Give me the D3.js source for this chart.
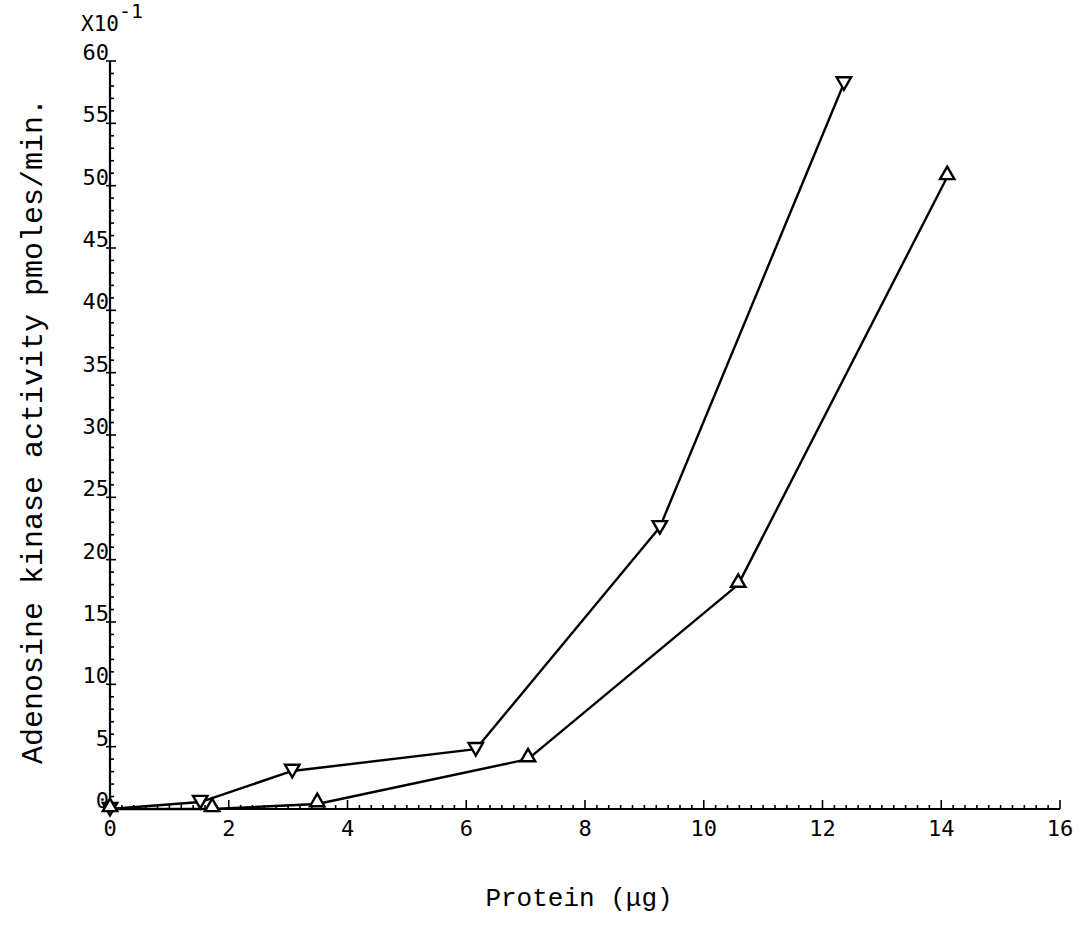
<!DOCTYPE html>
<html><head><meta charset="utf-8">
<script src="https://cdn.jsdelivr.net/npm/d3@7"></script>
<style>body{margin:0;background:#fff}svg{display:block}</style>
</head><body>
<svg id="c" width="1087" height="939"></svg>
<script>
// Data (protein in µg, activity in pmoles/min x10^-1)
const seriesDownX = [0, 1.52, 3.07, 6.16, 9.26, 12.36];
const seriesDownY = [0, 0.56, 3.05, 4.8, 22.6, 58.2];
const seriesUpX = [0, 1.72, 3.49, 7.04, 10.58, 14.1];
const seriesUpY = [0, 0.0, 0.4, 4.0, 18.0, 50.7];
const xTicks = [0, 2, 4, 6, 8, 10, 12, 14, 16];
const yTicks = [0, 5, 10, 15, 20, 25, 30, 35, 40, 45, 50, 55, 60];
const xLabel = "Protein (μg)";
const yLabel = "Adenosine kinase activity pmoles/min.";

const svg = d3.select("#c");
const x = d3.scaleLinear().domain([0, 16]).range([110, 1060]);
const y = d3.scaleLinear().domain([0, 60]).range([809, 61]);
const ink = "#000";
const tickFont = "'DejaVu Sans Mono', monospace";
const titleFont = "'Liberation Mono', 'Courier New', monospace";

// X axis line and ticks (pointing up/inside)
const gx = svg.append("g");
gx.append("line").attr("x1", x(0)).attr("x2", x(16)).attr("y1", y(0)).attr("y2", y(0))
  .attr("stroke", ink).attr("stroke-width", 2.2);
const xMinor = d3.range(0, 16.001, 0.2).map(v => +v.toFixed(2));
gx.selectAll("line.mn").data(xMinor).join("line").attr("class", "mn")
  .attr("x1", d => x(d)).attr("x2", d => x(d))
  .attr("y1", y(0)).attr("y2", d => y(0) - (Math.abs(d / 2 - Math.round(d / 2)) < 1e-6 ? 9 : 4))
  .attr("stroke", ink).attr("stroke-width", 1.6);
gx.selectAll("text").data(xTicks).join("text")
  .attr("x", d => x(d)).attr("y", y(0) + 27)
  .attr("text-anchor", "middle").attr("font-family", tickFont).attr("font-size", 22)
  .attr("fill", ink).text(d => d);

// Y axis line and ticks (pointing right/inside)
const gy = svg.append("g");
gy.append("line").attr("x1", x(0)).attr("x2", x(0)).attr("y1", y(0)).attr("y2", y(60))
  .attr("stroke", ink).attr("stroke-width", 2.2);
const yMinor = d3.range(0, 60.001, 1);
gy.selectAll("line.mn").data(yMinor).join("line").attr("class", "mn")
  .attr("x1", d => d % 5 === 0 ? x(0) - 4 : x(0)).attr("x2", d => x(0) + (d % 5 === 0 ? 6 : 4))
  .attr("y1", d => y(d)).attr("y2", d => y(d))
  .attr("stroke", ink).attr("stroke-width", 1.6);
gy.selectAll("text").data(yTicks).join("text")
  .attr("x", x(0) - 1).attr("y", d => y(d) - 1)
  .attr("text-anchor", "end").attr("font-family", tickFont).attr("font-size", 22)
  .attr("fill", ink).text(d => d);

// Exponent label
const ex = svg.append("text").attr("x", 81).attr("y", 31)
  .attr("font-family", tickFont).attr("font-size", 21).attr("fill", ink);
ex.append("tspan").text("X10");
ex.append("tspan").attr("dy", -13).attr("font-size", 20).text("-1");

// Lines
const line = d3.line().x(d => x(d[0])).y(d => y(d[1]));
const down = seriesDownX.map((v, i) => [v, seriesDownY[i]]);
const up = seriesUpX.map((v, i) => [v, seriesUpY[i]]);
[down, up].forEach(s => {
  svg.append("path").attr("d", line(s)).attr("fill", "none")
    .attr("stroke", ink).attr("stroke-width", 2.4).attr("stroke-linejoin", "round");
});

// Markers
const tri = d3.symbol().type(d3.symbolTriangle).size(90);
svg.selectAll("path.dn").data(down).join("path").attr("class", "dn")
  .attr("d", tri).attr("transform", d => `translate(${x(d[0])},${y(d[1]) - 2}) rotate(180)`)
  .attr("fill", "#fff").attr("stroke", ink).attr("stroke-width", 2.4);
svg.selectAll("path.up").data(up).join("path").attr("class", "up")
  .attr("d", tri).attr("transform", d => `translate(${x(d[0])},${y(d[1]) - 2})`)
  .attr("fill", "#fff").attr("stroke", ink).attr("stroke-width", 2.4);

// Axis titles
svg.append("text").attr("x", 579).attr("y", 906).attr("text-anchor", "middle")
  .attr("font-family", titleFont).attr("font-size", 26).attr("fill", ink).text(xLabel);
svg.append("text").attr("transform", "translate(42,431) rotate(-90)").attr("text-anchor", "middle")
  .attr("font-family", titleFont).attr("font-size", 30).attr("fill", ink).text(yLabel);
</script>
</body></html>
